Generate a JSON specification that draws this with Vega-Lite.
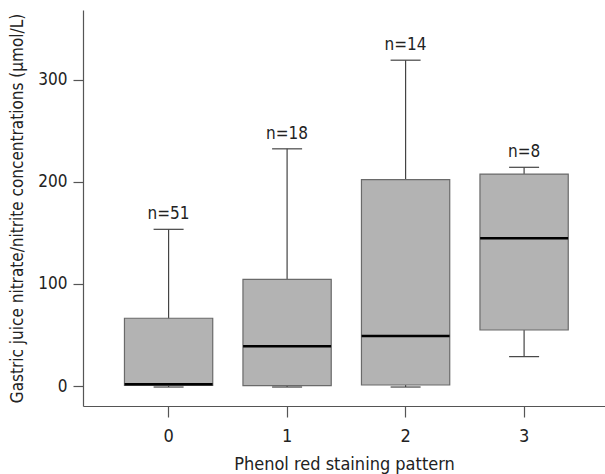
{
  "$schema": "https://vega.github.io/schema/vega-lite/v6.json",
  "autosize": "none",
  "width": 522,
  "height": 396,
  "padding": {"left": 83, "top": 10, "right": 0, "bottom": 68},
  "background": "white",
  "config": {
    "view": {"stroke": null},
    "font": "DejaVu Sans Condensed, Liberation Sans, sans-serif",
    "axis": {"grid": false, "domainColor": "#555555", "tickColor": "#555555", "labelColor": "#222222", "titleColor": "#222222", "labelFont": "DejaVu Sans Condensed, Liberation Sans, sans-serif", "titleFont": "DejaVu Sans Condensed, Liberation Sans, sans-serif", "titleFontWeight": "normal"}
  },
  "data": {
    "values": [
      {"pattern": "0", "lower": -1, "q1": 0.5, "median": 1.8, "q3": 66.4, "upper": 153.6, "label": "n=51"},
      {"pattern": "1", "lower": -1, "q1": 0.3, "median": 39, "q3": 104.5, "upper": 232.5, "label": "n=18"},
      {"pattern": "2", "lower": -1, "q1": 1, "median": 49, "q3": 202.3, "upper": 319.4, "label": "n=14"},
      {"pattern": "3", "lower": 28.8, "q1": 54.9, "median": 144.8, "q3": 207.8, "upper": 214.4, "label": "n=8"}
    ]
  },
  "encoding": {
    "x": {
      "field": "pattern", "type": "nominal",
      "scale": {"type": "band", "paddingInner": 0.255, "paddingOuter": 0.33, "align": 0.53},
      "axis": {"title": "Phenol red staining pattern", "labelAngle": 0, "tickSize": 11, "labelPadding": 10, "labelFontSize": 18, "titleFontSize": 18, "titlePadding": 10, "domainWidth": 1.2, "tickWidth": 1.2}
    }
  },
  "layer": [
    {
      "mark": {"type": "rule", "color": "#444444", "strokeWidth": 1.2},
      "encoding": {
        "y": {"field": "lower", "type": "quantitative",
          "scale": {"domain": [-19.6, 368.6], "nice": false, "zero": false},
          "axis": {"title": "Gastric juice nitrate/nitrite concentrations (μmol/L)", "values": [0, 100, 200, 300], "tickSize": 10, "labelPadding": 6, "labelFontSize": 17, "titleFontSize": 17, "titlePadding": 11, "domainWidth": 1.2, "tickWidth": 1.2}},
        "y2": {"field": "upper"}
      }
    },
    {
      "mark": {"type": "bar", "fill": "#b3b3b3", "stroke": "#6a6a6a", "strokeWidth": 1.2},
      "encoding": {
        "y": {"field": "q1", "type": "quantitative"},
        "y2": {"field": "q3"}
      }
    },
    {
      "mark": {"type": "tick", "color": "#000000", "opacity": 1, "thickness": 2.5, "size": 88},
      "encoding": {"y": {"field": "median", "type": "quantitative"}}
    },
    {
      "mark": {"type": "tick", "color": "#444444", "opacity": 1, "thickness": 1.2, "size": 30},
      "encoding": {"y": {"field": "upper", "type": "quantitative"}}
    },
    {
      "mark": {"type": "tick", "color": "#444444", "opacity": 1, "thickness": 1.2, "size": 30},
      "encoding": {"y": {"field": "lower", "type": "quantitative"}}
    },
    {
      "mark": {"type": "text", "baseline": "bottom", "dy": -6, "fontSize": 17, "color": "#222222"},
      "encoding": {
        "y": {"field": "upper", "type": "quantitative"},
        "text": {"field": "label"}
      }
    }
  ]
}
